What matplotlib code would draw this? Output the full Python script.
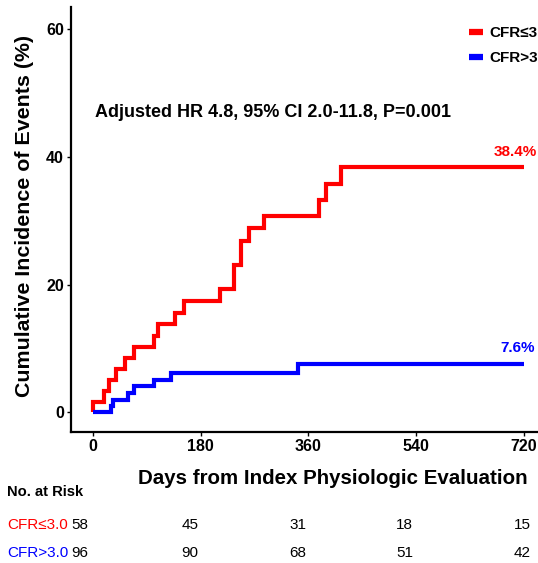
import matplotlib
matplotlib.use("Agg")
import matplotlib.pyplot as plt
from matplotlib.lines import Line2D
import matplotlib.transforms as mtransforms

plt.rcParams['font.family'] = ['Liberation Sans', 'DejaVu Sans']

# Cumulative incidence step curves (days, %)
red_days = [0, 0, 19, 26, 38, 53, 69, 102, 109, 137, 152, 212, 236, 248, 261, 285, 378, 390, 415, 720]
red_cum = [0, 1.7, 3.4, 5.1, 6.8, 8.5, 10.2, 12.0, 13.8, 15.5, 17.4, 19.3, 23.0, 26.8, 28.8, 30.7, 33.3, 35.8, 38.4, 38.4]
blue_days = [0, 30, 33, 58, 69, 102, 130, 342, 720]
blue_cum = [0, 1.0, 2.0, 3.1, 4.1, 5.1, 6.2, 7.6, 7.6]

group_labels = ['CFR≤3.0', 'CFR>3.0']
group_colors = ['#ff0000', '#0000ff']
final_labels = ['38.4%', '7.6%']

x_ticks = [0, 180, 360, 540, 720]
y_ticks = [0, 20, 40, 60]

risk_red = [58, 45, 31, 18, 15]
risk_blue = [96, 90, 68, 51, 42]
risk_cols = [-22, 162, 342, 521, 717]

W, H = 538, 563
fig = plt.figure(figsize=(W / 100, H / 100), dpi=100)
ax = fig.add_axes([71 / W, 1 - 432 / H, (W - 71) / W, (432 - 7) / H])

ax.step(red_days, red_cum, where='post', color=group_colors[0], lw=3,
        solid_capstyle='butt', solid_joinstyle='miter')
ax.step(blue_days, blue_cum, where='post', color=group_colors[1], lw=3,
        solid_capstyle='butt', solid_joinstyle='miter')

ax.set_xlim(-36.8, 743.5)
ax.set_ylim(-3.05, 63.4)
ax.set_xticks(x_ticks)
ax.set_yticks(y_ticks)
ax.tick_params(axis='both', length=3, width=1, pad=2, labelsize=11.5)
for lab in ax.get_xticklabels() + ax.get_yticklabels():
    lab.set_fontweight('bold')
for side in ['top', 'right']:
    ax.spines[side].set_visible(False)
for side in ['left', 'bottom']:
    ax.spines[side].set_linewidth(1.6)

# end-of-curve percentages
ax.annotate(final_labels[0], xy=(742, red_cum[-1]), xytext=(0, 11),
            textcoords='offset points', ha='right', va='center',
            color=group_colors[0], fontsize=11, fontweight='bold')
ax.annotate(final_labels[1], xy=(738, blue_cum[-1]), xytext=(0, 11.5),
            textcoords='offset points', ha='right', va='center',
            color=group_colors[1], fontsize=11, fontweight='bold')

ax.text(3, 46.9, 'Adjusted HR 4.8, 95% CI 2.0-11.8, P=0.001',
        ha='left', va='center', fontsize=13, fontweight='bold')

# legend sits against the right edge, so its labels run off the figure
handles = [Line2D([], [], color=c, lw=4.5, solid_capstyle='butt') for c in group_colors]
fig.legend(handles, group_labels, loc='upper left',
           bbox_to_anchor=(469 / W, 1 - 26 / H), bbox_transform=fig.transFigure,
           frameon=False, handlelength=0.9, handletextpad=0.45,
           labelspacing=0.75, borderpad=0, borderaxespad=0,
           prop={'size': 11, 'weight': 'bold'})

fig.text(25 / W, 1 - 216 / H, 'Cumulative Incidence of Events (%)',
         rotation=90, ha='center', va='center', fontsize=15.4, fontweight='bold')
fig.text(333 / W, 1 - 478 / H, 'Days from Index Physiologic Evaluation',
         ha='center', va='center', fontsize=14.8, fontweight='bold')

# number-at-risk table
fig.text(7 / W, 1 - 492 / H, 'No. at Risk', ha='left', va='center',
         fontsize=10.6, fontweight='bold')
blend = mtransforms.blended_transform_factory(ax.transData, fig.transFigure)
for row_y, lab, col, counts in [(525, group_labels[0], group_colors[0], risk_red),
                                (553, group_labels[1], group_colors[1], risk_blue)]:
    fig.text(7 / W, 1 - row_y / H, lab, ha='left', va='center',
             fontsize=11, color=col)
    for xd, n in zip(risk_cols, counts):
        ax.text(xd, 1 - row_y / H, str(n), transform=blend, ha='center',
                va='center', fontsize=11, clip_on=False)

fig.savefig('out.png', dpi=100)
